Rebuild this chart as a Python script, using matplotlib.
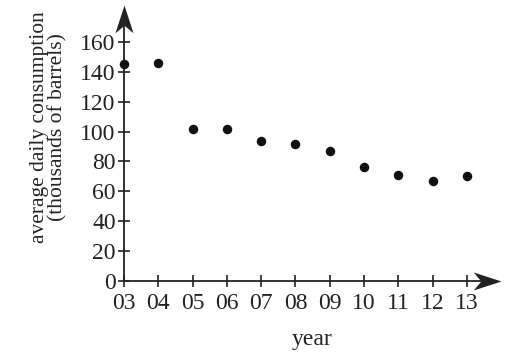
import matplotlib
matplotlib.use('Agg')
import matplotlib.pyplot as plt
from matplotlib.path import Path

# data
years = [3, 4, 5, 6, 7, 8, 9, 10, 11, 12, 13]
year_labels = ['03', '04', '05', '06', '07', '08', '09', '10', '11', '12', '13']
consumption = [145, 146, 102, 102, 94, 92, 87, 76, 71, 67, 70]
y_ticks = [0, 20, 40, 60, 80, 100, 120, 140, 160]

plt.rcParams['font.family'] = 'Liberation Serif'
plt.rcParams['font.size'] = 17
ink = '#222222'

fig = plt.figure(figsize=(5.06, 3.54), dpi=100)
ax = fig.add_axes([124 / 506, 73 / 354, 377 / 506, 276 / 354])

ax.scatter(years, consumption, s=34, color='#111111', zorder=3, clip_on=False)

ax.set_xlim(3, 3 + 377 / 34.3)
ax.set_ylim(0, 276 / 1.494)

for s in ax.spines.values():
    s.set_visible(False)

# axis lines with barbed arrow heads
right_head = Path([(0, 0), (-2, 0.65), (-1.45, 0), (-2, -0.65), (0, 0)],
                  [Path.MOVETO, Path.LINETO, Path.LINETO, Path.LINETO, Path.CLOSEPOLY])
up_head = Path([(0, 0), (0.65, -2), (0, -1.45), (-0.65, -2), (0, 0)],
               [Path.MOVETO, Path.LINETO, Path.LINETO, Path.LINETO, Path.CLOSEPOLY])
ax.plot([0, 0.97], [0, 0], transform=ax.transAxes, color=ink, lw=1.3, clip_on=False)
ax.plot([0, 0], [0, 0.96], transform=ax.transAxes, color=ink, lw=1.3, clip_on=False)
ax.plot([1], [0], transform=ax.transAxes, marker=right_head, ms=40, color=ink,
        mew=0, clip_on=False)
ax.plot([0], [1], transform=ax.transAxes, marker=up_head, ms=40, color=ink,
        mew=0, clip_on=False)

ax.set_xticks(years)
ax.set_xticklabels(year_labels)
ax.set_yticks(y_ticks)
ax.tick_params(direction='inout', length=9, width=1.2, color=ink, labelcolor=ink)
ax.tick_params(axis='x', pad=4)
ax.tick_params(axis='y', pad=1.5)

ax.set_xlabel('year', color=ink, labelpad=11)
ax.set_ylabel('average daily consumption\n(thousands of barrels)', color=ink,
              fontsize=15.5, linespacing=0.93)
ax.yaxis.set_label_coords(-0.15, 0.557)

fig.savefig('out.png', dpi=100)
